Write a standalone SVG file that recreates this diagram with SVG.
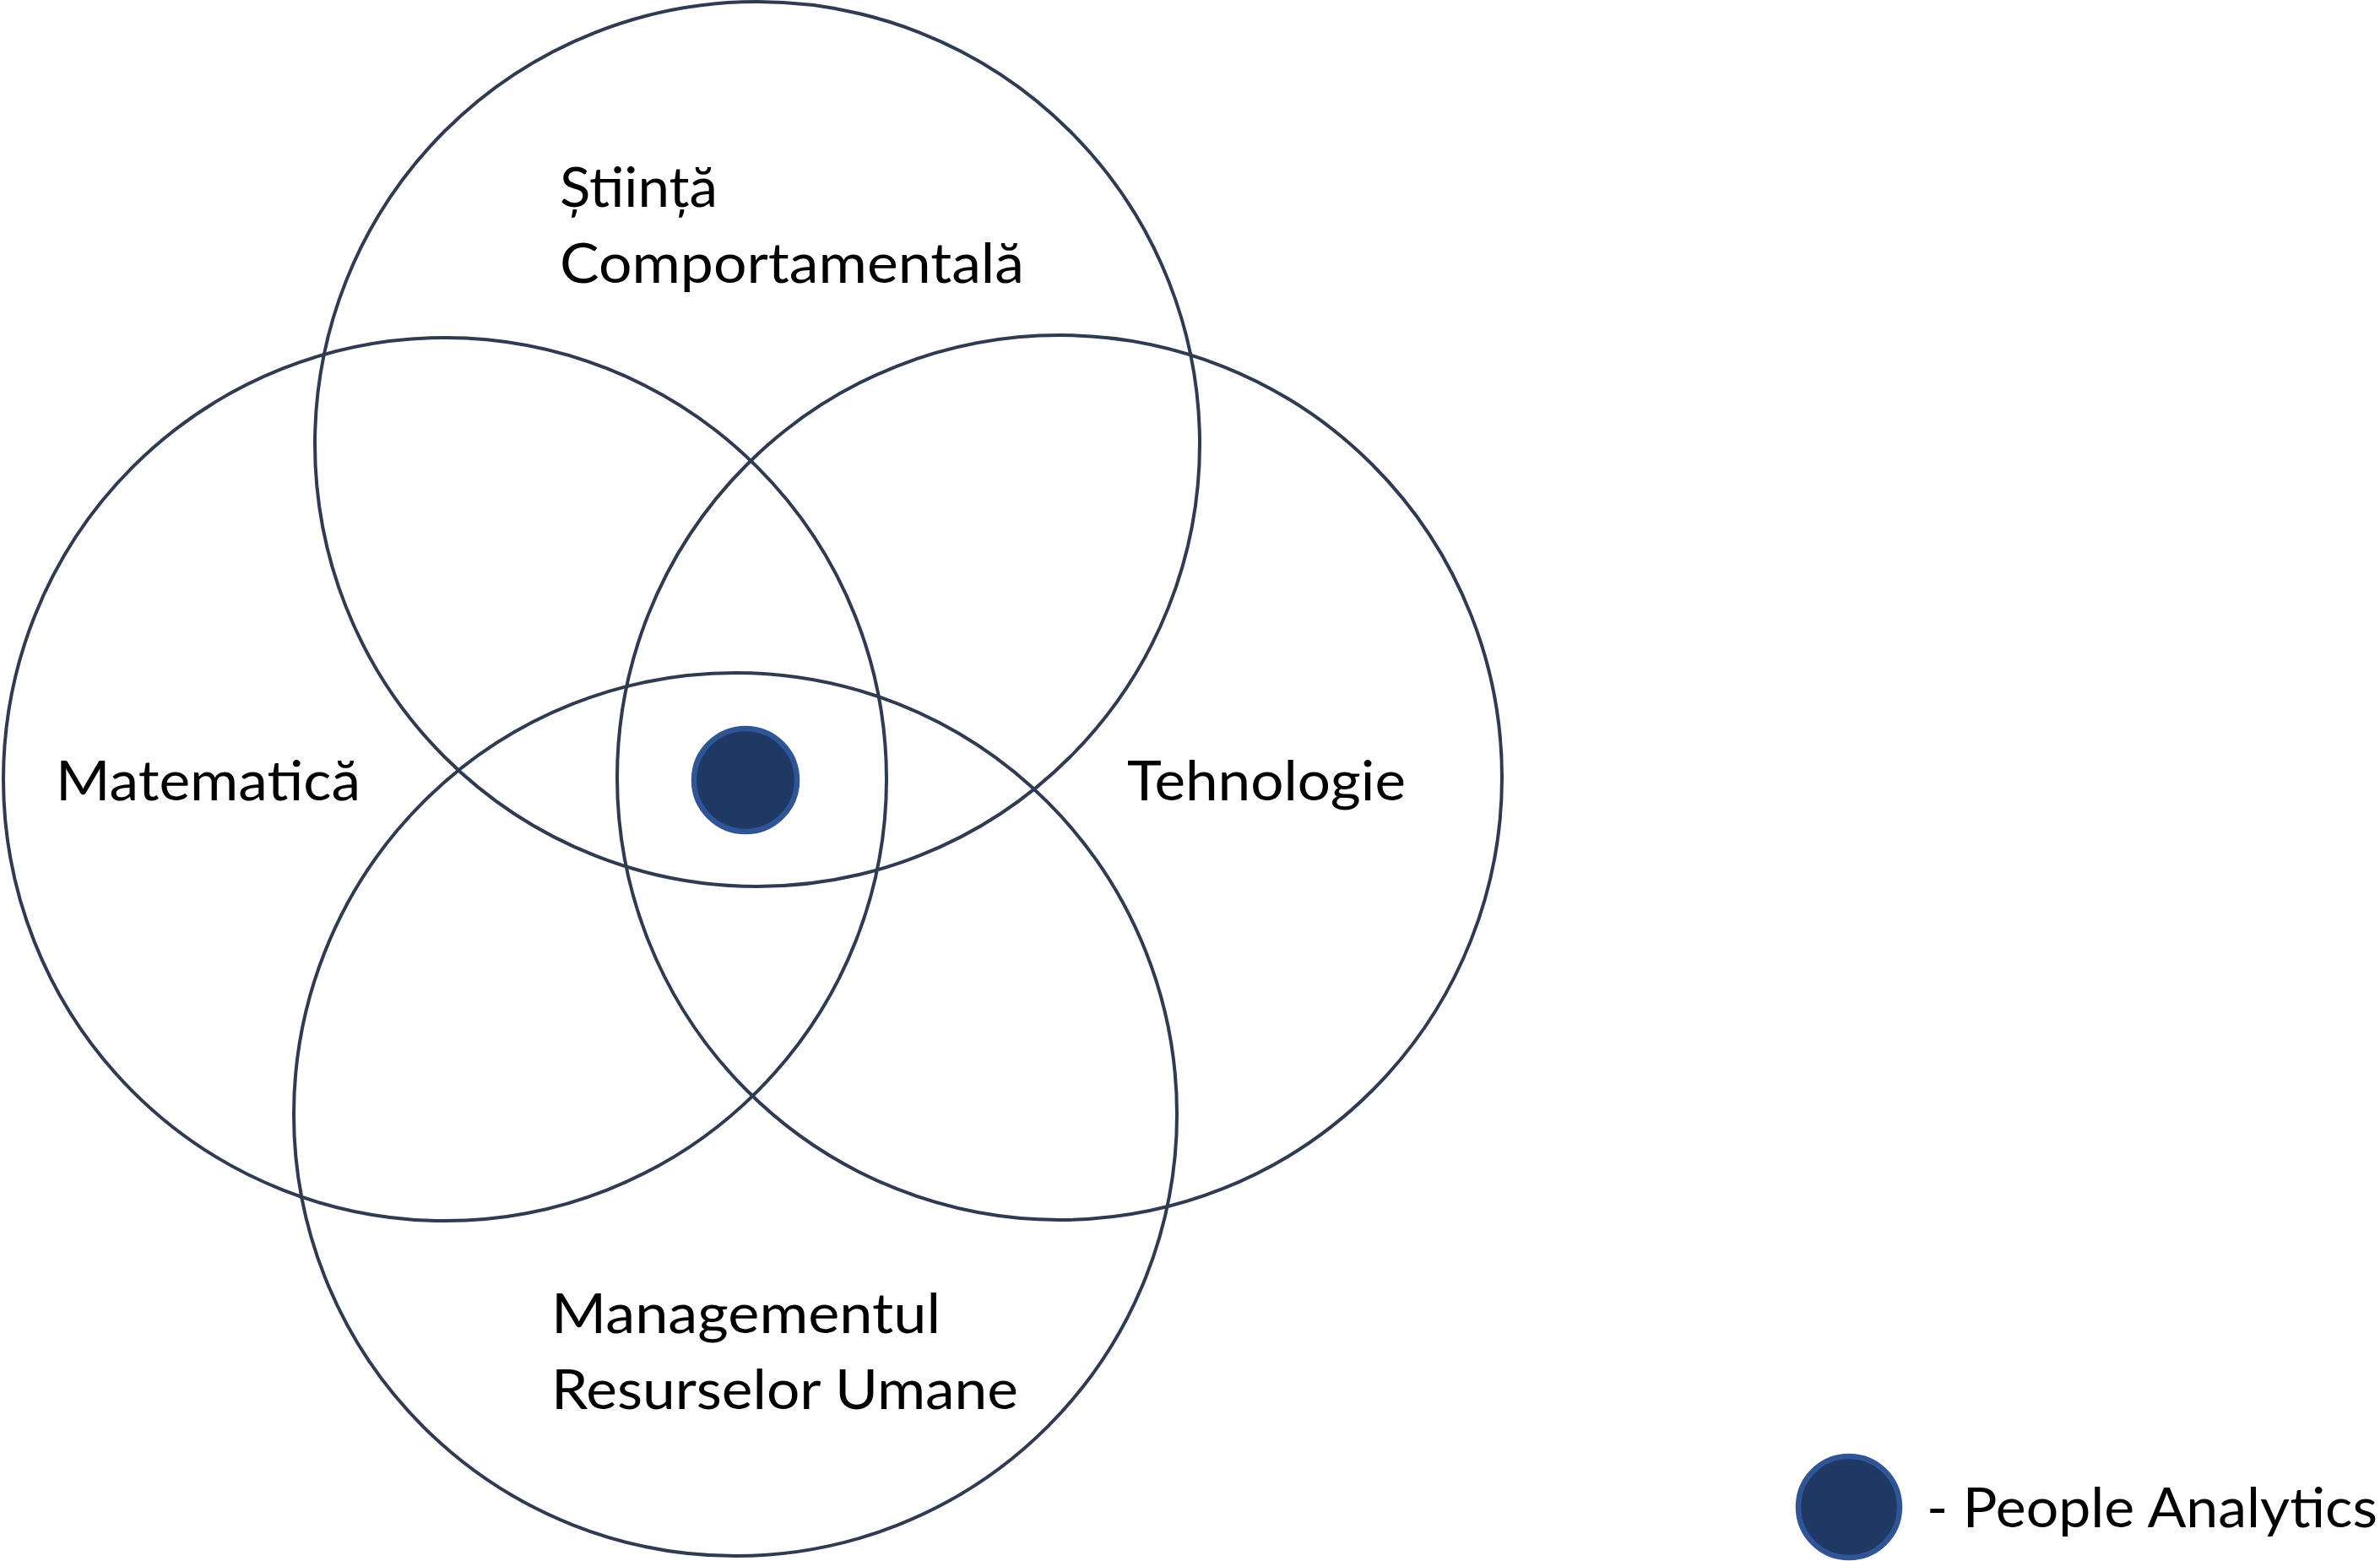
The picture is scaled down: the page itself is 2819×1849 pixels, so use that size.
<svg xmlns="http://www.w3.org/2000/svg" width="2819" height="1849" viewBox="0 0 2819 1849">
<style>
.ring{fill:none;stroke:#2F3B50;stroke-width:4}
.dot{fill:#203864;stroke:#2F5597;stroke-width:6.5}
.lbl{font-family:Lato,"Open Sans","Liberation Sans",sans-serif;font-size:66px;fill:#000}
</style>
<rect width="2819" height="1849" fill="#fff"/>
<g id="circle-stiinta">
<circle class="ring" cx="897" cy="526" r="524"/>
<text class="lbl" x="663" y="245" textLength="187" lengthAdjust="spacingAndGlyphs">Știință</text>
<text class="lbl" x="663" y="335" textLength="550" lengthAdjust="spacingAndGlyphs">Comportamentală</text>
</g>
<g id="circle-matematica">
<circle class="ring" cx="527" cy="923" r="523"/>
<text class="lbl" x="66" y="948" textLength="361" lengthAdjust="spacingAndGlyphs">Matematică</text>
</g>
<g id="circle-tehnologie">
<circle class="ring" cx="1255" cy="921" r="524"/>
<text class="lbl" x="1335" y="948" textLength="330" lengthAdjust="spacingAndGlyphs">Tehnologie</text>
</g>
<g id="circle-management">
<circle class="ring" cx="871" cy="1320" r="523"/>
<text class="lbl" x="653" y="1579" textLength="461" lengthAdjust="spacingAndGlyphs">Managementul</text>
<text class="lbl" x="653" y="1669" textLength="553" lengthAdjust="spacingAndGlyphs">Resurselor Umane</text>
</g>
<g id="people-analytics">
<circle class="dot" cx="883" cy="924" r="61"/>
</g>
<g id="legend">
<circle class="dot" cx="2190" cy="1785" r="60"/>
<text class="lbl" x="2282" y="1809" textLength="534" lengthAdjust="spacingAndGlyphs">- People Analytics</text>
</g>
<g id="connectors"/>
</svg>
